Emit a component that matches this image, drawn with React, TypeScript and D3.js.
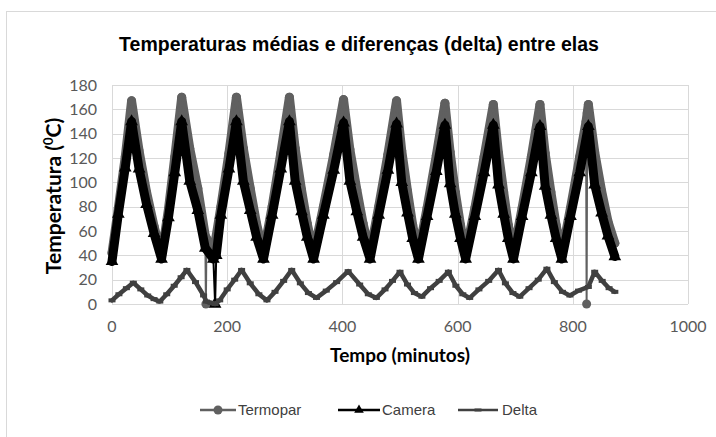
import React from 'react';
import * as d3 from 'd3';

const chartTitle = 'Temperaturas médias e diferenças (delta) entre elas';
const xTitle = 'Tempo (minutos)';
const xTicks = [0, 200, 400, 600, 800, 1000];
const yTicks = [0, 20, 40, 60, 80, 100, 120, 140, 160, 180];
const seriesNames = ['Termopar', 'Camera', 'Delta'];

const termoparMinutes = [
  0, 11, 23, 34, 47, 60, 73, 86,
  98, 109, 121, 135, 149, 162, 163, 164, 176,
  189, 203, 216, 228, 240, 251, 263,
  278, 293, 308, 318, 329, 339, 350,
  367, 385, 402, 413, 425, 436, 448,
  463, 479, 494, 503, 513, 522, 532,
  547, 563, 578, 587, 596, 605, 614,
  630, 646, 662, 671, 680, 688, 697,
  712, 728, 743, 752, 762, 771, 781,
  796, 812, 823, 824, 825, 827, 838, 850, 861, 873,
];
const termoparValues = [
  42, 79, 121, 167, 126, 92, 64, 40,
  78, 121, 170, 128, 95, 56, 0, 54, 42,
  80, 124, 170, 128, 95, 66, 42,
  80, 124, 170, 128, 94, 66, 42,
  80, 123, 168, 127, 94, 66, 42,
  80, 123, 167, 126, 93, 65, 42,
  79, 122, 165, 125, 92, 65, 42,
  79, 121, 164, 124, 92, 65, 42,
  79, 121, 164, 124, 92, 65, 42,
  79, 121, 150, 0, 157, 164, 125, 93, 68, 50,
];

const cameraMinutes = [
  0, 11, 23, 34, 47, 60, 73, 86,
  98, 109, 121, 135, 149, 162, 176, 179, 181,
  189, 203, 216, 228, 240, 251, 263,
  278, 293, 308, 318, 329, 339, 350,
  367, 385, 402, 413, 425, 436, 448,
  463, 479, 494, 503, 513, 522, 532,
  547, 563, 578, 587, 596, 605, 614,
  630, 646, 662, 671, 680, 688, 697,
  712, 728, 743, 752, 762, 771, 781,
  796, 812, 827, 838, 850, 861, 873,
];
const cameraValues = [
  35, 74, 112, 150, 111, 82, 58, 37,
  71, 108, 150, 101, 77, 46, 37, 0, 40,
  73, 111, 150, 101, 77, 55, 37,
  73, 111, 150, 101, 76, 55, 37,
  73, 110, 149, 101, 76, 55, 37,
  73, 110, 148, 100, 75, 54, 37,
  72, 109, 147, 99, 74, 54, 37,
  72, 108, 147, 98, 74, 54, 37,
  72, 108, 146, 97, 73, 54, 37,
  72, 108, 146, 98, 75, 56, 39,
];

const deltaMinutes = [
  0, 12, 25, 37, 50, 62, 73, 83,
  95, 108, 120, 130, 145, 159, 164, 172, 179, 187,
  200, 213, 225, 240, 255, 269,
  283, 298, 312, 327, 341, 355,
  372, 390, 410, 430, 445, 459,
  474, 487, 500, 513, 525, 538,
  553, 568, 584, 597, 609, 621,
  637, 654, 671, 683, 696, 708,
  724, 740, 755, 768, 782, 795,
  810, 827, 838, 851, 863, 873,
];
const deltaValues = [
  3, 8, 13, 17.5, 12, 7, 4, 2,
  8, 15, 22, 28, 18, 7, 2, 1, 0, 3,
  12, 20, 28, 17, 8, 3,
  10, 19, 28, 17, 9, 5,
  11, 18, 27, 16, 8, 5,
  12, 19, 26.5, 16, 9, 6,
  13, 19, 26.5, 15, 8, 5,
  12, 19, 28, 17, 9, 6,
  13, 20, 29, 18, 10, 7,
  11, 14, 26.5, 19, 13, 10,
];

type Pt = { t: number; v: number };
const zip = (ts: number[], vs: number[]): Pt[] => ts.map((t, i) => ({ t, v: vs[i] }));

const W = 716;
const H = 437;
const plot = { left: 112, right: 688, top: 85, bottom: 304 };

const GRID = '#d9d9d9';
const TERMO = '#606060';
const CAM = '#000000';
const DELTA = '#404040';
const TICK = '#595959';
const calibri = 'Lato, "Open Sans", sans-serif';
const arial = '"Liberation Sans", Arial, sans-serif';

export default function App() {
  const x = d3.scaleLinear().domain([0, 1000]).range([plot.left, plot.right]);
  const y = d3.scaleLinear().domain([0, 180]).range([plot.bottom, plot.top]);
  const line = d3
    .line<Pt>()
    .x((d) => x(d.t))
    .y((d) => y(d.v));

  const termo = zip(termoparMinutes, termoparValues);
  const cam = zip(cameraMinutes, cameraValues);
  const delta = zip(deltaMinutes, deltaValues);
  const termoBand = termo.filter((d) => d.v > 0);
  const camBand = cam.filter((d) => d.v > 0);
  const tri = d3.symbol().type(d3.symbolTriangle).size(70)() as string;
  const triLegend = d3.symbol().type(d3.symbolTriangle).size(40)() as string;

  const legendY = 410;
  const legend = [
    { name: seriesNames[0], x0: 200, x1: 236, tx: 238 },
    { name: seriesNames[1], x0: 338, x1: 380, tx: 382 },
    { name: seriesNames[2], x0: 458, x1: 498, tx: 502 },
  ];

  return (
    <svg
      width={W}
      height={H}
      style={{ position: 'absolute', left: 0, top: 0, background: '#fff' }}
    >
      <rect x={6.5} y={11.5} width={760} height={480} fill="#fff" stroke={GRID} strokeWidth={1} />
      <text
        x={359}
        y={51}
        textAnchor="middle"
        fontFamily={arial}
        fontWeight="bold"
        fontSize={19.5}
        fill="#000"
      >
        {chartTitle}
      </text>

      {yTicks.map((t) => (
        <line
          key={'gy' + t}
          x1={plot.left}
          x2={plot.right}
          y1={Math.round(y(t)) + 0.5}
          y2={Math.round(y(t)) + 0.5}
          stroke={GRID}
          strokeWidth={1}
        />
      ))}
      {xTicks.map((t) => (
        <line
          key={'gx' + t}
          x1={Math.round(x(t)) + 0.5}
          x2={Math.round(x(t)) + 0.5}
          y1={plot.top}
          y2={plot.bottom}
          stroke={GRID}
          strokeWidth={1}
        />
      ))}

      {yTicks.map((t) => (
        <text
          key={'ly' + t}
          x={97}
          y={y(t)}
          dy="0.35em"
          textAnchor="end"
          fontFamily={calibri}
          fontSize={16}
          fill={TICK}
        >
          {t}
        </text>
      ))}
      {xTicks.map((t) => (
        <text
          key={'lx' + t}
          x={x(t)}
          y={332}
          textAnchor="middle"
          fontFamily={calibri}
          fontSize={16}
          fill={TICK}
        >
          {t}
        </text>
      ))}

      <text
        transform={`translate(61, 196) rotate(-90)`}
        textAnchor="middle"
        fontFamily={calibri}
        fontWeight="bold"
        fontSize={21}
        fill="#000"
      >
        Temperatura (
        <tspan fontSize={13} dy={-8}>
          0
        </tspan>
        <tspan dy={8}>C)</tspan>
      </text>
      <text
        x={400}
        y={362}
        textAnchor="middle"
        fontFamily={calibri}
        fontWeight="bold"
        fontSize={19}
        fill="#000"
      >
        {xTitle}
      </text>

      {/* Termopar */}
      <g>
        <path d={line(termoBand) || ''} fill="none" stroke={TERMO} strokeWidth={9} strokeLinejoin="round" strokeLinecap="round" />
        <path d={line(termo) || ''} fill="none" stroke={TERMO} strokeWidth={2} />
        {termo.map((d, i) => (
          <circle key={'tc' + i} cx={x(d.t)} cy={y(d.v)} r={4.5} fill={TERMO} />
        ))}
      </g>
      {/* Camera */}
      <g>
        <path d={line(camBand) || ''} fill="none" stroke={CAM} strokeWidth={9} strokeLinejoin="round" strokeLinecap="round" />
        <path d={line(cam) || ''} fill="none" stroke={CAM} strokeWidth={2} />
        {cam.map((d, i) => (
          <path key={'cm' + i} d={tri} transform={`translate(${x(d.t)},${y(d.v)})`} fill={CAM} />
        ))}
      </g>
      {/* Delta */}
      <g>
        <path d={line(delta) || ''} fill="none" stroke={DELTA} strokeWidth={4.5} strokeLinejoin="round" strokeLinecap="round" />
        {delta.map((d, i) => (
          <rect key={'dm' + i} x={x(d.t) - 3.5} y={y(d.v) - 2} width={7} height={4} fill={DELTA} />
        ))}
      </g>

      {/* Legend */}
      {legend.map((l, i) => {
        const mid = (l.x0 + l.x1) / 2;
        const color = i === 0 ? TERMO : i === 1 ? CAM : DELTA;
        return (
          <g key={l.name}>
            <line x1={l.x0} x2={l.x1} y1={legendY} y2={legendY} stroke={color} strokeWidth={2.5} />
            {i === 0 && <circle cx={mid} cy={legendY} r={4.5} fill={color} />}
            {i === 1 && <path d={triLegend} transform={`translate(${mid},${legendY})`} fill={color} />}
            {i === 2 && <rect x={mid - 3.5} y={legendY - 1.5} width={7} height={3} fill={color} />}
            <text
              x={l.tx}
              y={legendY}
              dy="0.35em"
              fontFamily={arial}
              fontSize={15}
              fill="#404040"
            >
              {l.name}
            </text>
          </g>
        );
      })}
    </svg>
  );
}
